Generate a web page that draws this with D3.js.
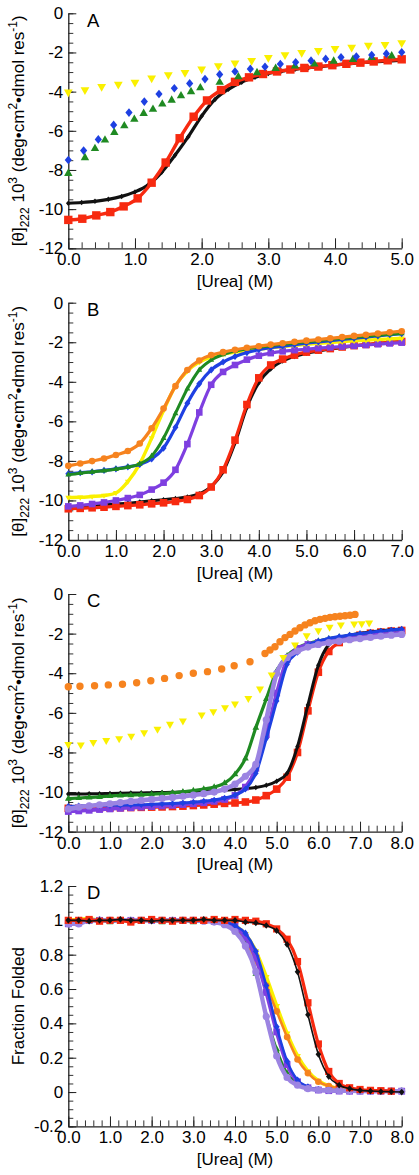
<!DOCTYPE html>
<html><head><meta charset="utf-8">
<script src="https://cdn.jsdelivr.net/npm/d3@7"></script>
<style>
body{margin:0;background:#fff;}
svg{display:block;font-family:"Liberation Sans",Arial,Helvetica,sans-serif;}
</style></head><body>
<svg id="chart" width="419" height="1175"></svg>
<script>
// ---------- tick labels ----------
const thetaTicks = [0,-2,-4,-6,-8,-10,-12];
const thetaTickLabels = ["0","-2","-4","-6","-8","-10","-12"];
const fracTicks = [1.2,1,0.8,0.6,0.4,0.2,0,-0.2];
const fracTickLabels = ["1.2","1","0.8","0.6","0.4","0.2","0","-0.2"];
const ureaTicksA = [0,1,2,3,4,5];
const ureaLabelsA = ["0.0","1.0","2.0","3.0","4.0","5.0"];
const ureaTicksB = [0,1,2,3,4,5,6,7];
const ureaLabelsB = ["0.0","1.0","2.0","3.0","4.0","5.0","6.0","7.0"];
const ureaTicksCD = [0,1,2,3,4,5,6,7,8];
const ureaLabelsCD = ["0.0","1.0","2.0","3.0","4.0","5.0","6.0","7.0","8.0"];

// ---------- Panel A ----------
const aBlackUrea = [0,0.2,0.4,0.6,0.8,1.0,1.2,1.4,1.6,1.8,2.0,2.2,2.4,2.6,2.8,3.0,3.2,3.4,3.6,3.8,4.0,4.2,4.4,4.6,4.8,5.0];
const aBlack = [-9.70,-9.66,-9.60,-9.50,-9.35,-9.12,-8.76,-8.12,-7.25,-6.30,-5.25,-4.40,-3.88,-3.52,-3.27,-3.07,-2.95,-2.86,-2.78,-2.72,-2.64,-2.58,-2.52,-2.47,-2.44,-2.40];
const aRedUrea = [0,0.21,0.42,0.63,0.83,1.04,1.25,1.46,1.67,1.88,2.08,2.29,2.5,2.71,2.92,3.13,3.33,3.54,3.75,3.96,4.17,4.38,4.58,4.79,5.0];
const aRed = [-10.55,-10.49,-10.32,-10.15,-9.86,-9.45,-8.65,-7.62,-6.38,-5.28,-4.45,-3.92,-3.50,-3.27,-3.10,-2.97,-2.87,-2.79,-2.72,-2.65,-2.58,-2.52,-2.46,-2.40,-2.35];
const aGreenUrea = [0,0.25,0.40,0.55,0.69,0.84,0.99,1.13,1.27,1.41,1.55,1.69,1.84,1.98,2.27,2.55,2.83,3.11,3.40,3.69,3.98,4.27,4.55,4.85];
const aGreen = [-8.17,-7.37,-6.90,-6.47,-6.08,-5.74,-5.41,-5.11,-4.90,-4.63,-4.43,-4.21,-4.00,-3.80,-3.52,-3.24,-3.03,-2.81,-2.69,-2.59,-2.44,-2.35,-2.25,-2.17];
const aBlueUrea = [0,0.23,0.45,0.68,0.91,1.14,1.36,1.59,1.82,2.05,2.27,2.5,2.73,2.95,3.18,3.41,3.64,3.86,4.09,4.32,4.55,4.77,5.0];
const aBlue = [-7.49,-7.01,-6.44,-5.70,-5.07,-4.51,-4.12,-3.83,-3.58,-3.36,-3.12,-2.97,-2.84,-2.73,-2.59,-2.50,-2.42,-2.33,-2.25,-2.21,-2.13,-2.06,-1.99];
const aYellowUrea = [0,0.25,0.5,0.75,1.0,1.25,1.5,1.75,2.0,2.25,2.5,2.75,3.0,3.25,3.5,3.75,4.0,4.25,4.5,4.75,5.0];
const aYellow = [-4.03,-3.92,-3.75,-3.63,-3.53,-3.32,-3.15,-3.03,-2.86,-2.69,-2.55,-2.42,-2.27,-2.13,-2.01,-1.91,-1.81,-1.74,-1.64,-1.60,-1.52];

// ---------- Panel B ----------
const ureaB = [0,0.25,0.5,0.75,1,1.25,1.5,1.75,2,2.25,2.5,2.75,3,3.25,3.5,3.75,4,4.25,4.5,4.75,5,5.25,5.5,5.75,6,6.25,6.5,6.75,7];
const bOrange = [-8.25,-8.13,-8.01,-7.88,-7.70,-7.50,-7.12,-6.35,-5.35,-4.22,-3.40,-2.92,-2.65,-2.50,-2.38,-2.28,-2.20,-2.12,-2.05,-1.98,-1.92,-1.86,-1.80,-1.74,-1.68,-1.62,-1.56,-1.50,-1.44];
const bYellow = [-9.85,-9.84,-9.80,-9.75,-9.62,-9.05,-8.15,-6.85,-5.45,-4.20,-3.45,-3.00,-2.75,-2.60,-2.50,-2.42,-2.35,-2.28,-2.22,-2.16,-2.10,-2.05,-2.01,-1.97,-1.93,-1.90,-1.86,-1.83,-1.80];
const bGreen = [-8.70,-8.62,-8.56,-8.50,-8.42,-8.32,-8.15,-7.75,-6.85,-5.60,-4.35,-3.40,-2.90,-2.62,-2.45,-2.33,-2.25,-2.18,-2.10,-2.04,-1.98,-1.92,-1.86,-1.80,-1.75,-1.70,-1.65,-1.60,-1.56];
const bBlue = [-8.65,-8.60,-8.55,-8.48,-8.40,-8.30,-8.18,-7.90,-7.35,-6.30,-5.08,-4.10,-3.40,-3.00,-2.72,-2.52,-2.38,-2.28,-2.20,-2.12,-2.05,-1.98,-1.92,-1.86,-1.80,-1.74,-1.68,-1.62,-1.57];
const bPurple = [-10.30,-10.25,-10.18,-10.10,-10.00,-9.88,-9.72,-9.45,-9.10,-8.45,-7.15,-5.55,-4.15,-3.50,-3.15,-2.88,-2.68,-2.55,-2.46,-2.40,-2.35,-2.30,-2.26,-2.22,-2.18,-2.14,-2.10,-2.06,-2.02];
const bBlack = [-10.35,-10.30,-10.26,-10.22,-10.18,-10.14,-10.08,-10.02,-9.96,-9.90,-9.82,-9.66,-9.30,-8.55,-7.10,-5.30,-4.05,-3.35,-2.95,-2.72,-2.56,-2.44,-2.34,-2.26,-2.19,-2.12,-2.06,-2.01,-1.96];
const bRed = [-10.42,-10.40,-10.37,-10.34,-10.30,-10.26,-10.22,-10.17,-10.12,-10.05,-9.95,-9.75,-9.32,-8.45,-6.95,-5.15,-3.80,-3.15,-2.85,-2.65,-2.50,-2.40,-2.32,-2.24,-2.17,-2.11,-2.05,-2.00,-1.96];

// ---------- Panel C ----------
const ureaC = [0,0.25,0.5,0.75,1,1.25,1.5,1.75,2,2.25,2.5,2.75,3,3.25,3.5,3.75,4,4.25,4.5,4.75,5,5.25,5.5,5.75,6,6.25,6.5,6.75,7,7.25,7.5,7.75,8];
const cBlack = [-10.10,-10.10,-10.09,-10.08,-10.07,-10.06,-10.05,-10.04,-10.03,-10.02,-10.01,-9.99,-9.97,-9.95,-9.93,-9.90,-9.87,-9.83,-9.77,-9.66,-9.45,-9.05,-7.70,-5.60,-3.60,-2.55,-2.22,-2.08,-1.99,-1.92,-1.86,-1.81,-1.77];
const cRed = [-10.82,-10.82,-10.81,-10.80,-10.80,-10.79,-10.78,-10.77,-10.76,-10.75,-10.73,-10.71,-10.68,-10.65,-10.61,-10.57,-10.55,-10.50,-10.40,-10.18,-9.85,-9.25,-8.00,-5.90,-3.95,-2.90,-2.45,-2.22,-2.08,-1.98,-1.92,-1.87,-1.84];
const cGreen = [-10.33,-10.30,-10.27,-10.24,-10.20,-10.17,-10.15,-10.13,-10.11,-10.08,-10.04,-9.99,-9.93,-9.85,-9.75,-9.55,-9.10,-8.30,-6.75,-5.30,-3.88,-3.12,-2.72,-2.50,-2.38,-2.26,-2.18,-2.10,-2.03,-1.97,-1.92,-1.88,-1.84];
const cBlue = [-10.72,-10.70,-10.69,-10.68,-10.67,-10.66,-10.65,-10.64,-10.62,-10.60,-10.58,-10.55,-10.51,-10.46,-10.40,-10.30,-10.15,-9.85,-9.05,-7.30,-5.40,-3.55,-2.95,-2.58,-2.38,-2.25,-2.15,-2.07,-2.00,-1.93,-1.87,-1.82,-1.77];
const cPurple = [-10.98,-10.95,-10.92,-10.88,-10.85,-10.82,-10.79,-10.76,-10.73,-10.70,-10.67,-10.63,-10.59,-10.54,-10.47,-10.37,-10.17,-9.75,-8.80,-7.10,-5.00,-3.30,-2.75,-2.55,-2.45,-2.38,-2.31,-2.24,-2.17,-2.10,-2.04,-1.99,-1.95];
const cLavender = [-10.85,-10.76,-10.70,-10.64,-10.59,-10.53,-10.47,-10.42,-10.37,-10.32,-10.27,-10.21,-10.15,-10.08,-10.00,-9.85,-9.60,-9.20,-8.60,-6.35,-4.00,-3.20,-2.88,-2.68,-2.55,-2.45,-2.38,-2.31,-2.25,-2.19,-2.13,-2.08,-2.04];
const cOrangeUrea = [0,0.28,0.63,0.96,1.3,1.64,1.98,2.31,2.66,3.0,3.34,3.68,3.98,4.36,4.72,4.84,4.96,5.08,5.2,5.32,5.44,5.56,5.68,5.8,5.92,6.04,6.16,6.28,6.4,6.52,6.64,6.76,6.88];
const cOrange = [-4.68,-4.66,-4.63,-4.59,-4.56,-4.48,-4.38,-4.26,-4.12,-4.0,-3.92,-3.79,-3.62,-3.42,-3.0,-2.83,-2.66,-2.41,-2.2,-2.04,-1.87,-1.70,-1.56,-1.45,-1.35,-1.28,-1.23,-1.18,-1.15,-1.12,-1.10,-1.07,-1.03];
const cYellowUrea = [0,0.3,0.6,0.91,1.22,1.51,1.82,2.14,2.44,2.75,3.2,3.48,3.76,4.0,4.32,4.6,4.88,5.16,5.44,5.72,6.0,6.27,6.54,6.86,7.04,7.22];
const cYellow = [-7.59,-7.62,-7.5,-7.39,-7.3,-7.18,-7.0,-6.83,-6.58,-6.41,-6.11,-5.94,-5.74,-5.55,-5.27,-4.80,-4.09,-3.21,-2.57,-2.10,-1.85,-1.68,-1.56,-1.51,-1.50,-1.46];

// ---------- Panel D ----------
const ureaD = [0,0.25,0.5,0.75,1,1.25,1.5,1.75,2,2.25,2.5,2.75,3,3.25,3.5,3.75,4,4.25,4.5,4.75,5,5.25,5.5,5.75,6,6.25,6.5,6.75,7,7.25,7.5,7.75,8];
const dBlack = [1.0,1.0,0.995,1.0,1.0,1.005,1.0,1.0,0.995,1.0,1.0,1.0,1.0,1.005,1.0,1.0,1.0,0.99,0.985,0.97,0.94,0.86,0.70,0.45,0.22,0.09,0.04,0.02,0.01,0.006,0.003,0.002,0.0];
const dRed = [1.0,1.0,1.005,0.995,1.0,1.0,0.99,1.0,1.005,1.0,0.995,1.0,1.0,1.0,1.005,1.0,1.005,1.0,0.995,0.98,0.95,0.89,0.76,0.52,0.28,0.12,0.05,0.025,0.015,0.01,0.008,0.005];
const dLavender = [0.98,0.98,1.0,1.0,1.0,1.0,1.0,1.0,1.0,1.0,1.0,1.0,1.0,0.995,0.99,0.975,0.935,0.85,0.70,0.44,0.21,0.085,0.04,0.02,0.012,0.01,0.008,0.007,0.006,0.005,0.005,0.005,0.005];
const dPurple = [0.98,0.985,1.0,1.0,1.0,1.0,1.0,1.0,1.0,1.0,1.0,1.0,1.0,1.0,0.995,0.99,0.965,0.90,0.78,0.58,0.35,0.16,0.06,0.025,0.012,0.008,0.006,0.005,0.005,0.005,0.005,0.005,0.005];
const dBlue = [1.0,1.0,1.0,1.005,1.0,1.0,1.0,1.0,1.0,1.0,1.0,1.0,1.0,1.0,1.0,0.99,0.97,0.925,0.82,0.62,0.38,0.18,0.07,0.03,0.015,0.01,0.008,0.006,0.005,0.005,0.005,0.005,0.005];
const dGreen = [1.0,1.0,0.995,1.0,0.99,1.0,1.0,0.995,1.0,0.99,1.0,1.0,0.99,1.0,0.99,0.975,0.94,0.86,0.69,0.45,0.25,0.11,0.05,0.02,0.01,0.008,0.006,0.005,0.005,0.005,0.005,0.005,0.005];
const dOrange = [1.0,1.0,1.0,1.0,1.0,1.0,1.0,1.0,1.0,1.0,1.0,1.0,1.0,1.0,1.0,0.995,0.96,0.88,0.76,0.62,0.47,0.32,0.19,0.11,0.06,0.035,0.02,0.012,0.008,0.006,0.005,0.005,0.005];
const dYellow = [1.0,1.005,1.01,1.0,1.005,1.0,0.995,1.0,1.0,1.0,1.0,1.0,1.0,1.0,1.0,1.0,0.97,0.92,0.82,0.67,0.50,0.34,0.21,0.12,0.065,0.035,0.02,0.012,0.008,0.006,0.005,0.005,0.005];

// ---------- styles ----------
const COL = {black:'#111111', red:'#f72a10', orange:'#f6831f', yellow:'#faf000', green:'#1f8a22', blue:'#1e40e2', purple:'#7e3fe0', lavender:'#9c84e2'};
const FONT = '"Liberation Sans",Arial,Helvetica,sans-serif';

function S(x, y, color, m, s, lw){ return {x, y, color, m, s, lw}; }

const panels = [
  {label:'A', top:13.3, bottom:248.3, xMax:5, xTicks:ureaTicksA, xLabels:ureaLabelsA,
   yDomain:[-12,0], yTicks:thetaTicks, yLabels:thetaTickLabels, yMinorStep:0.5, title:'theta',
   series:[
     S(aBlackUrea,aBlack,COL.black,'diamond',2.3,3.2),
     S(aRedUrea,aRed,COL.red,'square',4.2,3.4),
     S(aYellowUrea,aYellow,COL.yellow,'tridown',4.2,0),
     S(aGreenUrea,aGreen,COL.green,'triup',4.0,0),
     S(aBlueUrea,aBlue,COL.blue,'diamond',3.6,0)
   ]},
  {label:'B', top:302.7, bottom:540, xMax:7, xTicks:ureaTicksB, xLabels:ureaLabelsB,
   yDomain:[-12,0], yTicks:thetaTicks, yLabels:thetaTickLabels, yMinorStep:0.5, title:'theta',
   series:[
     S(ureaB,bBlack,COL.black,'diamond',2.3,3),
     S(ureaB,bRed,COL.red,'square',3.8,3.2),
     S(ureaB,bPurple,COL.purple,'square',3.3,3.2),
     S(ureaB,bYellow,COL.yellow,'tridown',2.8,3.4),
     S(ureaB,bBlue,COL.blue,'diamond',3.0,3.2),
     S(ureaB,bGreen,COL.green,'triup',2.8,3),
     S(ureaB,bOrange,COL.orange,'circle',3.3,3.2)
   ]},
  {label:'C', top:594, bottom:831.7, xMax:8, xTicks:ureaTicksCD, xLabels:ureaLabelsCD,
   yDomain:[-12,0], yTicks:thetaTicks, yLabels:thetaTickLabels, yMinorStep:0.5, title:'theta',
   series:[
     S(ureaC,cRed,COL.red,'square',3.8,3.2),
     S(ureaC,cBlack,COL.black,'diamond',2.3,3),
     S(ureaC,cGreen,COL.green,'triup',3.2,3.2),
     S(ureaC,cPurple,COL.purple,'square',3.4,3.6),
     S(ureaC,cBlue,COL.blue,'diamond',2.8,3),
     S(ureaC,cLavender,COL.lavender,'circle',3.6,4.6),
     S(cYellowUrea,cYellow,COL.yellow,'tridown',3.8,0),
     S(cOrangeUrea,cOrange,COL.orange,'circle',3.7,0)
   ]},
  {label:'D', top:886, bottom:1126.4, xMax:8, xTicks:ureaTicksCD, xLabels:ureaLabelsCD,
   yDomain:[-0.2,1.2], yTicks:fracTicks, yLabels:fracTickLabels, yMinorStep:0.05, title:'frac',
   series:[
     S(ureaD,dYellow,COL.yellow,'tridown',3.2,3.8),
     S(ureaD,dOrange,COL.orange,'circle',3.3,2.5),
     S(ureaD,dGreen,COL.green,'triup',3.2,2.5),
     S(ureaD,dPurple,COL.purple,'square',3.4,3.8),
     S(ureaD,dBlue,COL.blue,'diamond',3.0,2.5),
     S(ureaD,dLavender,COL.lavender,'circle',3.6,4.4),
     S(ureaD,dRed,COL.red,'square',3.6,3.2),
     S(ureaD,dBlack,COL.black,'diamond',2.8,1.6)
   ]}
];

function markerPath(type, s){
  switch(type){
    case 'square': return `M${-s},${-s}H${s}V${s}H${-s}Z`;
    case 'diamond': return `M0,${-s*1.2}L${s},0L0,${s*1.2}L${-s},0Z`;
    case 'circle': return `M${s},0A${s},${s},0,1,1,${-s},0A${s},${s},0,1,1,${s},0Z`;
    case 'triup': return `M0,${-s*1.2}L${s*1.05},${s*0.65}L${-s*1.05},${s*0.65}Z`;
    case 'tridown': return `M0,${s*1.2}L${s*1.05},${-s*0.65}L${-s*1.05},${-s*0.65}Z`;
  }
}

const svg = d3.select('#chart');
const X0 = 68.3, X1 = 401.7;

panels.forEach(p => {
  const x = d3.scaleLinear().domain([0, p.xMax]).range([X0, X1]);
  const y = d3.scaleLinear().domain(p.yDomain).range([p.bottom, p.top]);
  const g = svg.append('g');

  // minor ticks
  const yMinor = d3.range(p.yDomain[0], p.yDomain[1] + 1e-9, p.yMinorStep);
  g.append('g').attr('transform', `translate(${X0},0)`)
    .call(d3.axisLeft(y).tickValues(yMinor).tickFormat('').tickSizeInner(-5).tickSizeOuter(0))
    .call(a => a.select('.domain').remove())
    .attr('color', '#333');
  const xMinor = d3.range(0, p.xMax + 1e-9, 0.2);
  g.append('g').attr('transform', `translate(0,${p.bottom})`)
    .call(d3.axisBottom(x).tickValues(xMinor).tickFormat('').tickSizeInner(-6).tickSizeOuter(0))
    .call(a => a.select('.domain').remove())
    .attr('color', '#333');

  // major axes
  const ya = g.append('g').attr('transform', `translate(${X0},0)`)
    .call(d3.axisLeft(y).tickValues(p.yTicks).tickFormat((d,i) => p.yLabels[i])
      .tickSizeInner(-8).tickSizeOuter(0).tickPadding(5))
    .attr('color', '#222').attr('font-size', 17).attr('font-family', FONT);
  ya.selectAll('text').attr('fill', '#000');
  const xa = g.append('g').attr('transform', `translate(0,${p.bottom})`)
    .call(d3.axisBottom(x).tickValues(p.xTicks).tickFormat((d,i) => p.xLabels[i])
      .tickSizeInner(-10).tickSizeOuter(0).tickPadding(5))
    .attr('color', '#222').attr('font-size', 17).attr('font-family', FONT);
  xa.selectAll('text').attr('fill', '#000');
  g.selectAll('.domain').attr('stroke-width', 1.3);

  // series
  p.series.forEach(s => {
    const pts = s.x.map((u, i) => [u, s.y[i]]).filter(d => d[1] !== undefined);
    if (s.lw) {
      g.append('path').datum(pts)
        .attr('fill', 'none').attr('stroke', s.color).attr('stroke-width', s.lw)
        .attr('stroke-linejoin', 'round').attr('stroke-linecap', 'round')
        .attr('d', d3.line().x(d => x(d[0])).y(d => y(d[1])).curve(d3.curveMonotoneX));
    }
    g.append('g').selectAll('path').data(pts).join('path')
      .attr('transform', d => `translate(${x(d[0])},${y(d[1])})`)
      .attr('d', markerPath(s.m, s.s))
      .attr('fill', s.color);
  });

  // panel label
  g.append('text').attr('x', 87).attr('y', p.top + 13.4)
    .attr('font-size', 18.5).attr('font-family', FONT).text(p.label);

  // x title
  g.append('text').attr('x', (X0 + X1) / 2).attr('y', p.bottom + 38.5)
    .attr('text-anchor', 'middle').attr('font-size', 17).attr('font-family', FONT)
    .text('[Urea] (M)');

  // y title
  const cy = (p.top + p.bottom) / 2;
  const t = g.append('text').attr('transform', `translate(24,${cy}) rotate(-90)`)
    .attr('text-anchor', 'middle').attr('font-size', 17).attr('font-family', FONT);
  if (p.title === 'frac') {
    t.text('Fraction Folded');
  } else {
    t.append('tspan').text('[θ]');
    t.append('tspan').attr('font-size', 12).attr('dy', 5).text('222');
    t.append('tspan').attr('dy', -5).text(' 10');
    t.append('tspan').attr('font-size', 12).attr('dy', -7).text('3');
    t.append('tspan').attr('dy', 7).text(' (deg•cm');
    t.append('tspan').attr('font-size', 12).attr('dy', -7).text('2');
    t.append('tspan').attr('dy', 7).text('•dmol res');
    t.append('tspan').attr('font-size', 12).attr('dy', -7).text('-1');
    t.append('tspan').attr('dy', 7).text(')');
  }
});
</script></body></html>
